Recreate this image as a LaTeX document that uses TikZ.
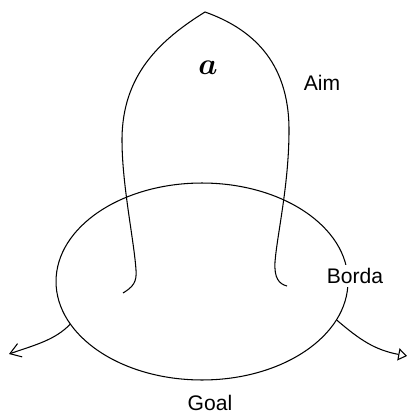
\documentclass[tikz,border=0pt]{standalone}
\usepackage{fontspec}
\setmainfont{Liberation Sans}
\usetikzlibrary{arrows.meta,shapes.geometric}

\begin{document}
\begin{tikzpicture}[x=0.02cm,y=-0.02cm,
		ln/.style={line width=0.6pt,black},
		lab/.style={font=\fontsize{12}{14}\selectfont,inner sep=2pt},
		exit/.style={ln,-{Straight Barb[length=6pt,width=8pt]}},
		exitb/.style={ln,-{Triangle[open,length=5pt,width=7pt]}}
		]
		\useasboundingbox (0,0) rectangle (410,415);
		% the field
		\node[ln,draw,ellipse,minimum width=5.84cm,minimum height=3.94cm,inner sep=0pt] (field) at (202,281.5) {};
		% the arch
		\draw[ln] (123,293) .. controls (133,287) and (137,282) .. (136,270)
		.. controls (134,240) and (122,185) .. (122,140)
		.. controls (122,75) and (160,40) .. (205,12)
		.. controls (250,28) and (289,60) .. (289,130)
		.. controls (289,185) and (277,235) .. (275,262)
		.. controls (274,278) and (279,284) .. (287,286);
		\node[font=\LARGE\boldmath] (a) at (208,68) {$a$};
		\node[lab] (aim) at (322,83) {Aim};
		\node[lab,fill=white] (borda) at (355,276) {Borda};
		\node[lab] (goal) at (210,403) {Goal};
		% ways out
		\coordinate (lout) at (9,354);
		\coordinate (rout) at (407,356);
		\draw[exit] (field.198) .. controls (55,340) and (35,345) .. (lout);
		\draw[exitb] (field.344) .. controls (360,340) and (375,350) .. (rout);
\end{tikzpicture}
\end{document}
